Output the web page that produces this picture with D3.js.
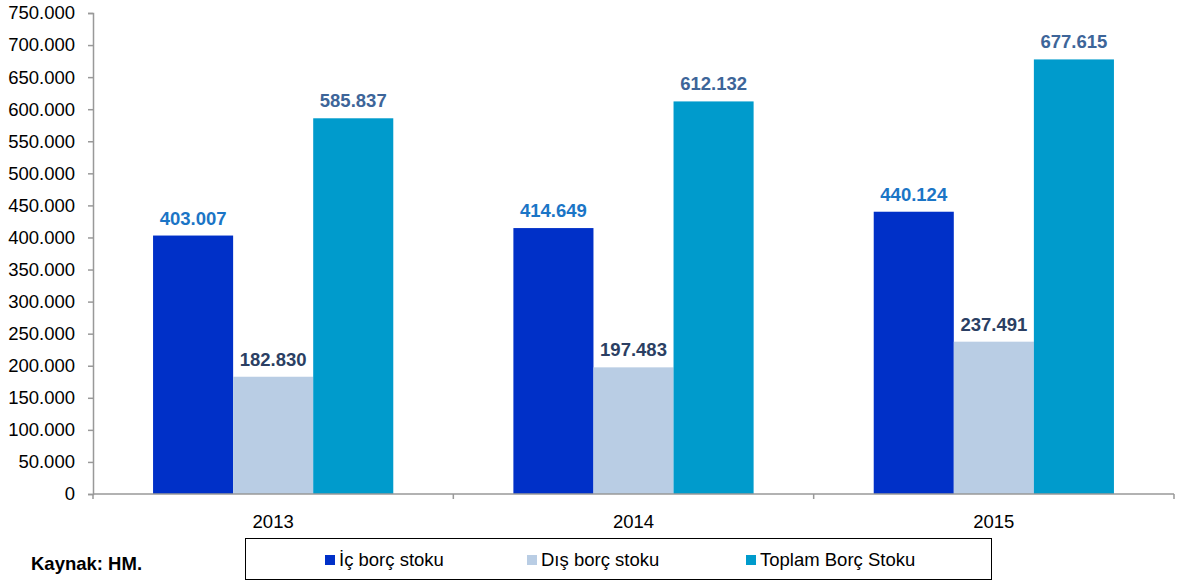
<!DOCTYPE html>
<html><head><meta charset="utf-8">
<script src="https://cdn.jsdelivr.net/npm/d3@7"></script>
<style>body{margin:0;background:#fff;} svg{display:block;font-family:"Liberation Sans",Arial,sans-serif;}</style>
</head><body>
<svg id="c" width="1177" height="581"></svg>
<script>
const categories = ["2013","2014","2015"];
const seriesNames = ["İç borç stoku","Dış borç stoku","Toplam Borç Stoku"];
const icBorc = [403007, 414649, 440124];
const disBorc = [182830, 197483, 237491];
const toplamBorc = [585837, 612132, 677615];
const yTicks = [0,50000,100000,150000,200000,250000,300000,350000,400000,450000,500000,550000,600000,650000,700000,750000];
const barColors = ["#0030c8","#b9cde4","#009bcc"];
const labelColors = ["#1b75c6","#2b3f63","#3d6599"];

(function(){
const series = [icBorc, disBorc, toplamBorc];
const svg = d3.select("#c");
const mL = 93, mR = 1174, mT = 13, mB = 494;
const fmt = v => d3.format(",")(v).replace(/,/g, ".");

const y = d3.scaleLinear().domain([0, 750000]).range([mB, mT]);
const x0 = d3.scaleBand().domain(categories).range([mL, mR]).paddingInner(0).paddingOuter(0);
const x1 = d3.scaleBand().domain(d3.range(3)).range([0, x0.bandwidth()]).paddingOuter(0.75).paddingInner(0);

// bars
categories.forEach((c, ci) => {
  series.forEach((s, si) => {
    svg.append("rect")
      .attr("x", x0(c) + x1(si))
      .attr("y", y(s[ci]))
      .attr("width", x1.bandwidth())
      .attr("height", y(0) - y(s[ci]))
      .attr("fill", barColors[si]);
    svg.append("text")
      .attr("x", x0(c) + x1(si) + x1.bandwidth() / 2)
      .attr("y", y(s[ci]) - 11)
      .attr("text-anchor", "middle")
      .attr("font-size", 18.5).attr("font-weight", "bold")
      .attr("fill", labelColors[si])
      .text(fmt(s[ci]));
  });
});

// y axis
const yAxis = d3.axisLeft(y).tickValues(yTicks).tickSize(5).tickPadding(13).tickFormat(fmt);
const ya = svg.append("g").attr("transform", `translate(${mL},0)`).call(yAxis);
ya.select(".domain").attr("stroke", "#999").attr("stroke-width", 1.5);
ya.selectAll(".tick line").attr("stroke", "#999").attr("stroke-width", 1.5);
ya.selectAll(".tick text").attr("font-size", 18.5).attr("fill", "#000").attr("font-family", "Liberation Sans, Arial, sans-serif");

// x axis
const xg = svg.append("g").attr("transform", `translate(0,${mB})`);
xg.append("line").attr("x1", mL).attr("x2", mR).attr("stroke", "#999").attr("stroke-width", 1.5);
const bounds = [mL].concat(categories.map(c => x0(c) + x0.bandwidth()));
bounds.forEach(b => xg.append("line").attr("x1", b).attr("x2", b).attr("y1", 0).attr("y2", 5).attr("stroke", "#999").attr("stroke-width", 1.5));
categories.forEach(c => xg.append("text").attr("x", x0(c) + x0.bandwidth() / 2).attr("y", 34)
  .attr("text-anchor", "middle").attr("font-size", 18.5).attr("fill", "#000").text(c));

// source
svg.append("text").attr("x", 31).attr("y", 570).attr("font-size", 18.5).attr("font-weight", "bold").attr("fill", "#000").text("Kaynak: HM.");

// legend
svg.append("rect").attr("x", 245.5).attr("y", 538.5).attr("width", 746).attr("height", 41).attr("fill", "none").attr("stroke", "#000").attr("stroke-width", 1);
const legX = [325, 527, 746];
seriesNames.forEach((n, i) => {
  svg.append("rect").attr("x", legX[i]).attr("y", 555).attr("width", 10).attr("height", 10).attr("fill", barColors[i]);
  svg.append("text").attr("x", legX[i] + 14).attr("y", 566).attr("font-size", 18.5).attr("fill", "#000").text(n);
});
})();
</script>
</body></html>
